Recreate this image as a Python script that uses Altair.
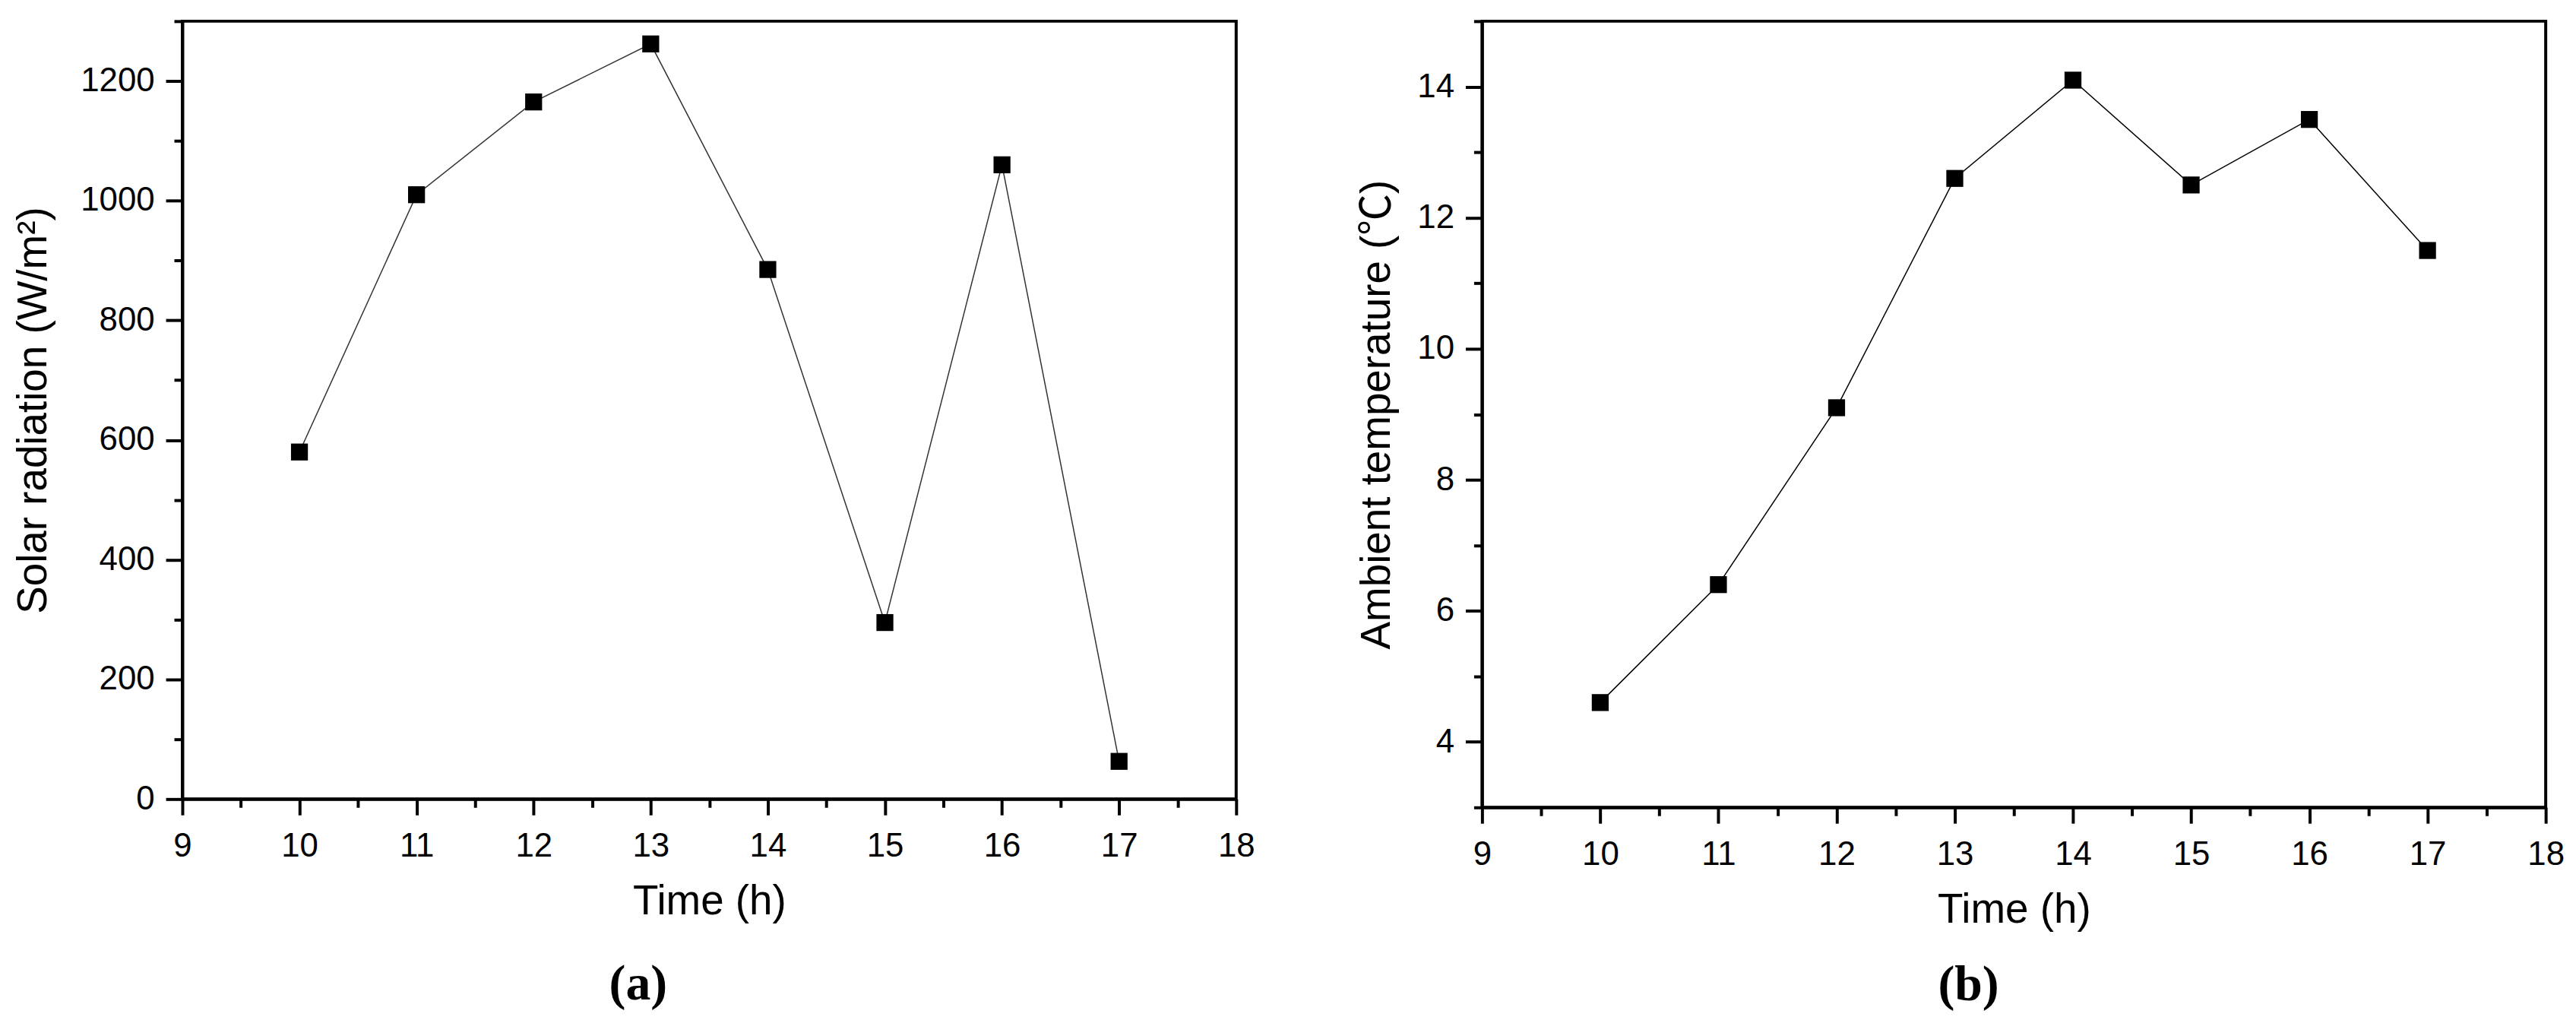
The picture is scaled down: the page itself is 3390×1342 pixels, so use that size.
import altair as alt
import pandas as pd

# ---- data ----
hours = [10, 11, 12, 13, 14, 15, 16, 17]
solar_radiation = [580, 1010, 1165, 1262, 885, 295, 1060, 63]
ambient_temperature = [4.6, 6.4, 9.1, 12.6, 14.1, 12.5, 13.5, 11.5]

x_major = [9, 10, 11, 12, 13, 14, 15, 16, 17, 18]
x_minor = [9.5, 10.5, 11.5, 12.5, 13.5, 14.5, 15.5, 16.5, 17.5]
rad_major = [0, 200, 400, 600, 800, 1000, 1200]
rad_minor = [100, 300, 500, 700, 900, 1100, 1300]
temp_major = [4, 6, 8, 10, 12, 14]
temp_minor = [3, 5, 7, 9, 11, 13, 15]

FONT = "Liberation Sans, Arial, Noto Sans CJK SC, sans-serif"
SERIF = "Liberation Serif, Times New Roman, serif"


def panel(values, field, ytitle, ydomain, ymaj, ymin, width, height,
          ytitle_pad, caption, cap_dx, cap_offset, line_color):
    df = pd.DataFrame({"Time": hours, field: values})
    xscale = alt.Scale(domain=[9, 18], nice=False, zero=False)
    yscale = alt.Scale(domain=ydomain, nice=False, zero=False)
    base = alt.Chart(df)
    line = base.mark_line(color=line_color, strokeWidth=1.5).encode(
        x=alt.X("Time:Q", scale=xscale,
                axis=alt.Axis(orient="bottom", values=x_major, format="d",
                              title="Time (h)", tickSize=21, labelPadding=20,
                              titlePadding=24)),
        y=alt.Y(f"{field}:Q", scale=yscale,
                axis=alt.Axis(orient="left", values=ymaj, format="d",
                              title=ytitle, tickSize=22, labelPadding=15,
                              titlePadding=ytitle_pad)),
    )
    pts = base.mark_square(size=500, color="black", opacity=1).encode(
        x=alt.X("Time:Q", scale=xscale,
                axis=alt.Axis(orient="bottom", values=x_minor, labels=False,
                              domain=False, tickSize=11, title=None)),
        y=alt.Y(f"{field}:Q", scale=yscale,
                axis=alt.Axis(orient="left", values=ymin, labels=False,
                              domain=False, tickSize=11, title=None)),
    )
    return (
        alt.layer(line, pts)
        .resolve_axis(x="independent", y="independent")
        .properties(
            width=width,
            height=height,
            title=alt.TitleParams(
                text=caption, orient="bottom", anchor="middle", dx=cap_dx,
                offset=cap_offset, font=SERIF, fontSize=66,
                fontWeight="bold", color="black",
            ),
        )
    )


left = panel(solar_radiation, "Radiation", "Solar radiation (W/m²)",
             [0, 1300], rad_major, rad_minor, 1393, 1028, 33, "(a)", -94, 50,
             "#333333")
right = panel(ambient_temperature, "Temperature", "Ambient temperature (℃)",
              [3, 15], temp_major, temp_minor, 1406, 1039, 24, "(b)", -60, 40,
              "black")

chart = (
    alt.hconcat(left, right, spacing=130)
    .properties(padding={"left": 7, "top": 13, "right": 5, "bottom": 5})
    .configure_view(stroke="black", strokeWidth=4)
    .configure_axis(
        grid=False,
        domainColor="black", domainWidth=4,
        tickColor="black", tickWidth=4,
        labelFont=FONT, labelFontSize=44, labelColor="black",
        labelFlush=False, labelOverlap=False, labelBound=False,
        titleFont=FONT, titleFontSize=55, titleFontWeight="normal",
        titleColor="black",
    )
    .configure_concat(spacing=130)
)

chart.save("out.html", embed_options={"renderer": "svg", "actions": False})
